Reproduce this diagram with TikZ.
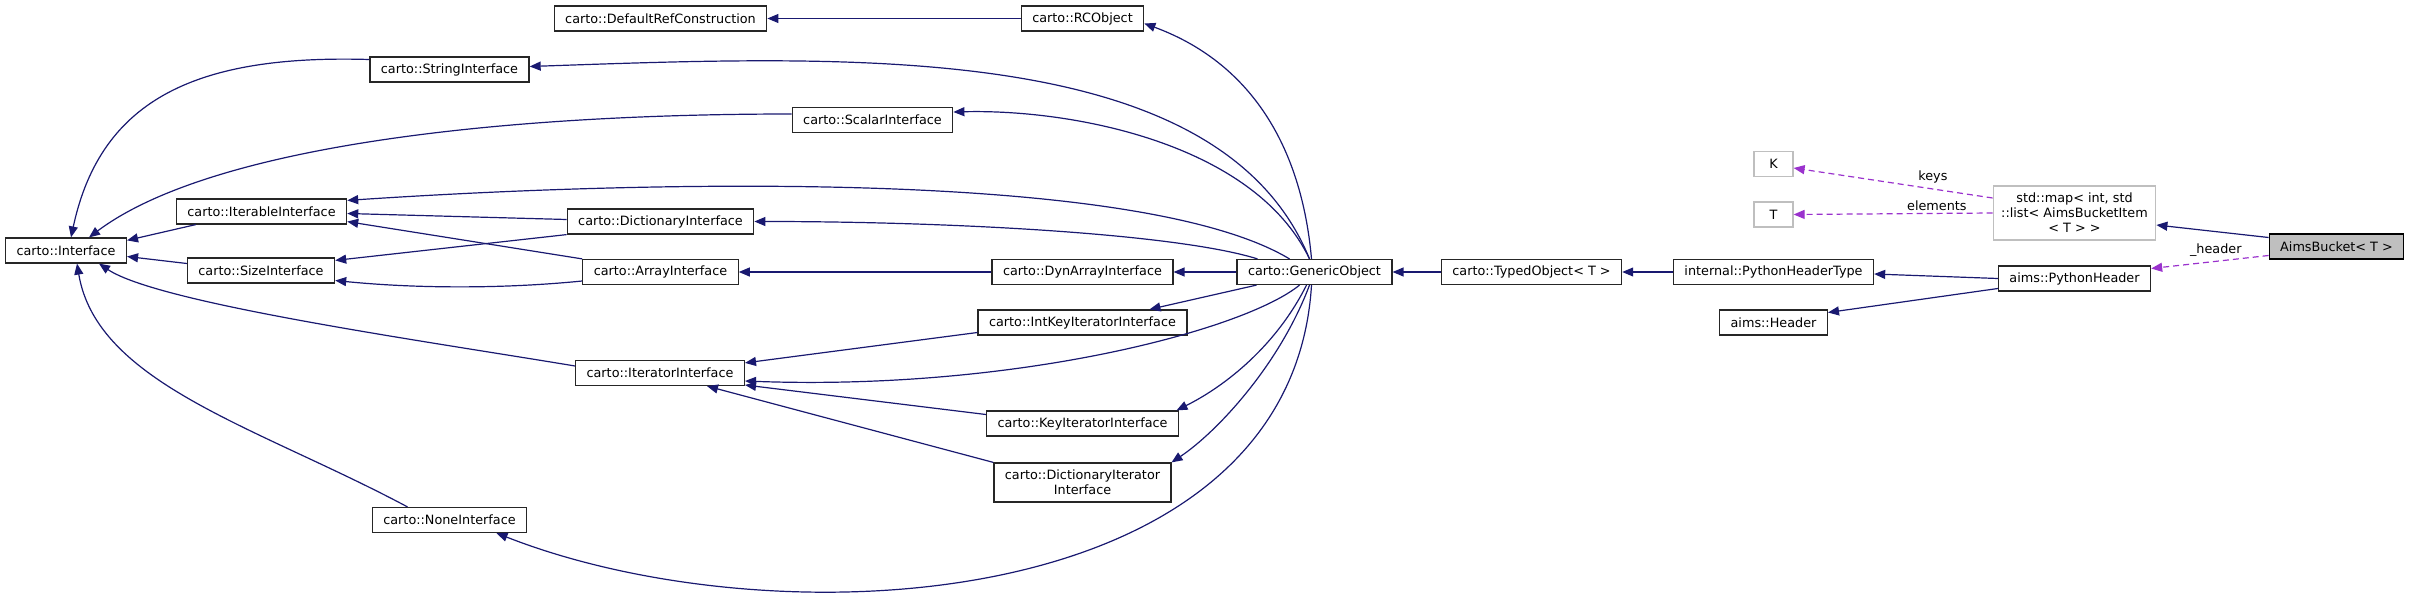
\documentclass[tikz,border=0pt]{standalone}
\usepackage{fontspec}
\setmainfont{DejaVu Sans}
\usepackage{xcolor}
\usepackage{tikz}
\usetikzlibrary{arrows.meta,positioning}
\definecolor{inhblue}{HTML}{191970}
\definecolor{usepurple}{HTML}{9A32CD}
\definecolor{boxgrey}{HTML}{BFBFBF}
\tikzset{
  cls/.style={rectangle,draw=black!85,line width=1.2pt,fill=white,
    minimum height=25pt,inner xsep=11pt,inner ysep=2pt,align=center,
    font=\fontsize{12.8}{15}\selectfont},
  ext/.style={cls,draw=boxgrey},
  inh/.style={color=inhblue,line width=1.2pt},
  use/.style={color=usepurple,line width=1.2pt,dash pattern=on 6pt off 4pt},
  lbl/.style={text=black,font=\fontsize{12.8}{15}\selectfont,inner sep=1pt}
}

\begin{document}
\begin{tikzpicture}[x=1pt,y=1pt]
  \useasboundingbox (0,0) rectangle (2411,-599);
  \begin{scope}
    \node[cls] (drc)  at (660.5,-18.5) {carto::DefaultRefConstruction};
    \node[cls] (rco)  at (1082.5,-18.5) {carto::RCObject};
    \node[cls] (stri) at (449.5,-69.5) {carto::StringInterface};
    \node[cls] (scai) at (872.5,-120) {carto::ScalarInterface};
    \node[cls] (itbi) at (261.5,-211.5) {carto::IterableInterface};
    \node[cls] (intf) at (66,-250.5) {carto::Interface};
    \node[cls] (dici) at (660.5,-221.5) {carto::DictionaryInterface};
    \node[cls] (sizi) at (261,-270.5) {carto::SizeInterface};
    \node[cls] (arri) at (660.5,-272) {carto::ArrayInterface};
    \node[cls] (dyni) at (1082.5,-272) {carto::DynArrayInterface};
    \node[cls] (geno) at (1314.5,-272) {carto::GenericObject};
    \node[cls] (typo) at (1531.5,-272) {carto::TypedObject< T >};
    \node[cls] (pht)  at (1773.5,-272) {internal::PythonHeaderType};
    \node[cls] (ah)   at (1773.5,-322.5) {aims::Header};
    \node[cls] (ph)   at (2074.5,-278.5) {aims::PythonHeader};
    \node[cls,fill=boxgrey,draw=black] (ab) at (2336.5,-246.5) {AimsBucket< T >};
    \node[ext,minimum height=54pt,inner xsep=8pt] (smap) at (2074.5,-213)
      {std::map< int, std\\::list< AimsBucketItem\\< T > >};
    \node[ext,minimum width=39pt] (k) at (1773.5,-164) {K};
    \node[ext,minimum width=39pt] (t) at (1773.5,-214.5) {T};
    \node[cls] (iki)  at (1082.5,-322.5) {carto::IntKeyIteratorInterface};
    \node[cls] (iti)  at (660,-373) {carto::IteratorInterface};
    \node[cls] (kii)  at (1082.5,-423.5) {carto::KeyIteratorInterface};
    \node[cls,minimum height=39pt,inner ysep=0pt] (dii) at (1082.5,-482.5)
      {carto::DictionaryIterator\\Interface};
    \node[cls] (noi)  at (449.5,-520) {carto::NoneInterface};
  \end{scope}

  \begin{scope}[>={Triangle[length=11pt,width=9pt]},
                every edge/.style={draw,inh}]
    \path [->] (rco.west) edge (drc.east);
    \path [->] (geno.west) edge (dyni.east);
    \path [->] (dyni.west) edge (arri.east);
    \path [->] (typo.west) edge (geno.east);
    \path [->] (pht.west) edge (typo.east);
    \path [->] (ph.west) edge ([yshift=-2pt]pht.east);
    \path [->] ([yshift=-10pt]ph.west) edge ([yshift=10pt]ah.east);
    \path [->] ([yshift=9pt]ab.west) edge ([yshift=-12pt]smap.east);
    \path [->] ([xshift=-58pt]geno.south) edge ([xshift=67pt]iki.north);
    \path [->] ([yshift=-10pt]iki.west) edge ([yshift=-3pt]iti.north east);
    \path [->] ([yshift=9pt]kii.west) edge ([yshift=-12pt]iti.east);
    \path [->] (dii.north west) edge ([xshift=47pt]iti.south);
    \path [->] ([yshift=2pt]dici.west) edge ([yshift=-2pt]itbi.east);
    \path [->] (arri.north west) edge ([yshift=3pt]itbi.south east);
    \path [->] (dici.south west) edge ([yshift=-3pt]sizi.north east);
    \path [->] ([xshift=20pt]itbi.south west) edge ([yshift=-3pt]intf.north east);
    \path [->] ([yshift=7pt]sizi.west) edge ([yshift=-6pt]intf.east);

    % curved ones out of GenericObject
    \draw [inh,->] ([xshift=-3pt]geno.north) .. controls +(-10,113) and +(106,-39) .. ([yshift=-5pt]rco.east);
    \draw [inh,->] ([xshift=-5pt]geno.north) .. controls +(-90,220) and +(321,11) .. ([yshift=3pt]stri.east);
    \draw [inh,->] ([xshift=-5pt]geno.north) .. controls +(-55,115) and +(120,3) .. ([yshift=8pt]scai.east);
    \draw [inh,->] ([xshift=-25pt]geno.north) .. controls +(-150,90) and +(300,20) .. ([yshift=-2pt]itbi.north east);
    \draw [inh,->] ([xshift=-57pt]geno.north) .. controls +(-80,25) and +(200,0) .. (dici.east);
    \draw [inh,->] ([xshift=-15pt]geno.south) .. controls +(-55,-45) and +(270,-10) .. ([yshift=-8pt]iti.east);
    \draw [inh,->] ([xshift=-8pt]geno.south) .. controls +(-30,-60) and +(50,25) .. ([xshift=94pt]kii.north);
    \draw [inh,->] ([xshift=-5pt]geno.south) .. controls +(-30,-80) and +(45,30) .. ([xshift=89pt]dii.north);
    \draw [inh,->] ([xshift=-3pt]geno.south) .. controls +(-20,-330) and +(280,-110) .. ([xshift=47pt]noi.south);

    % curved ones into Interface
    \draw [inh,->] ([yshift=10pt]stri.west) .. controls +(-170,5) and +(30,140) .. ([xshift=5pt]intf.north);
    \draw [inh,->] ([yshift=6pt]scai.west) .. controls +(-300,0) and +(120,90) .. ([xshift=23pt]intf.north);
    \draw [inh,->] ([yshift=7pt]iti.west) .. controls +(-150,25) and +(60,-40) .. ([xshift=33pt]intf.south);
    \draw [inh,->] ([xshift=-42pt]noi.north) .. controls +(-150,80) and +(20,-120) .. ([xshift=11pt]intf.south);
    \draw [inh,->] ([yshift=-9pt]arri.west) .. controls +(-80,-8) and +(80,-8) .. ([yshift=-10pt]sizi.east);
  \end{scope}

  \begin{scope}[>={Triangle[length=11pt,width=9pt]},
                every edge/.style={draw,use}]
    \path [->] ([yshift=-9pt]ab.west) edge node[lbl,pos=0.45,above=3pt] {\_header} ([yshift=10pt]ph.east);
    \path [->] ([yshift=15pt]smap.west) edge node[lbl,pos=0.3,above=4pt] {keys} ([yshift=-4pt]k.east);
    \path [->] (smap.west) edge node[lbl,pos=0.28,above=1pt] {elements} (t.east);
  \end{scope}
\end{tikzpicture}
\end{document}
